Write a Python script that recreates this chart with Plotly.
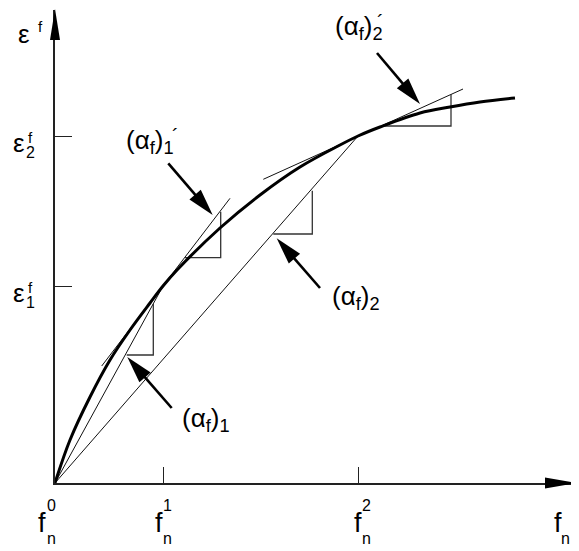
import numpy as np
import plotly.graph_objects as go

# ---------------- data (chart units: 1 unit ~ 1 px) ----------------
curve_x = [0, 15, 35, 55, 75, 95, 108, 122, 165, 205, 245, 285, 303, 325, 365, 395, 425, 460]
curve_y = [0, 43, 86, 123, 153, 180, 197, 213, 255, 288, 316, 338, 347, 356, 370, 376, 381, 385]

f_ticks = [108, 303]          # f_n^1, f_n^2
eps_ticks = [197, 347]        # eps_1^f, eps_2^f

tangent1_x = [46.7, 175]
tangent1_y = [117, 284.7]
tangent2_x = [208.3, 408]
tangent2_y = [303.7, 394]

tri_a1_x = [71.7, 98.3, 98.3]
tri_a1_y = [128, 128, 179]
tri_a1p_x = [130, 165.7, 165.7]
tri_a1p_y = [225.3, 225.3, 271.3]
tri_a2_x = [218.3, 257.3, 257.3]
tri_a2_y = [249, 249, 292.3]
tri_a2p_x = [326, 396, 396]
tri_a2p_y = [357, 357, 389]

arrow_tail_x = [116.7, 113.3, 265, 322]
arrow_tail_y = [75, 319.7, 195, 430]
arrow_tip_x = [72.3, 157.7, 221.7, 365]
arrow_tip_y = [126, 268, 244.7, 379]

X_MAX = 520
Y_MAX = 473

fig = go.Figure()

THIN = dict(color="#111111", width=1)
TRI = dict(color="#333333", width=1.3)

# secants from origin
for fx, ey in zip(f_ticks, eps_ticks):
    fig.add_trace(go.Scatter(x=[0, fx], y=[0, ey], mode="lines", line=THIN,
                             hoverinfo="skip", showlegend=False))
# tangents
for tx, ty in [(tangent1_x, tangent1_y), (tangent2_x, tangent2_y)]:
    fig.add_trace(go.Scatter(x=tx, y=ty, mode="lines", line=THIN,
                             hoverinfo="skip", showlegend=False))
# slope triangles
for tx, ty in [(tri_a1_x, tri_a1_y), (tri_a1p_x, tri_a1p_y),
               (tri_a2_x, tri_a2_y), (tri_a2p_x, tri_a2p_y)]:
    fig.add_trace(go.Scatter(x=tx, y=ty, mode="lines", line=TRI,
                             hoverinfo="skip", showlegend=False))
# main curve
fig.add_trace(go.Scatter(x=curve_x, y=curve_y, mode="lines", line_shape="spline",
                         line=dict(color="black", width=3),
                         hoverinfo="skip", showlegend=False))

# arrows (shaft + filled head)
HEAD_L, HEAD_W = 27, 7.5
for x0, y0, x1, y1 in zip(arrow_tail_x, arrow_tail_y, arrow_tip_x, arrow_tip_y):
    d = np.array([x1 - x0, y1 - y0], dtype=float)
    d /= np.linalg.norm(d)
    n = np.array([-d[1], d[0]])
    tip = np.array([x1, y1])
    base = tip - HEAD_L * d
    fig.add_trace(go.Scatter(x=[x0, base[0] + 2 * d[0]], y=[y0, base[1] + 2 * d[1]],
                             mode="lines", line=dict(color="black", width=2.6),
                             hoverinfo="skip", showlegend=False))
    p1 = base + HEAD_W * n
    p2 = base - HEAD_W * n
    fig.add_shape(type="path",
                  path=f"M{tip[0]},{tip[1]} L{p1[0]},{p1[1]} L{p2[0]},{p2[1]} Z",
                  xref="x", yref="y", fillcolor="black", line=dict(width=0))

# axis arrowheads
fig.add_shape(type="path", xref="x domain", yref="y domain", xsizemode="pixel",
              ysizemode="pixel", xanchor=1, yanchor=0,
              path="M1,0 L-30,5.5 L-30,-5.5 Z", fillcolor="black", line=dict(width=0))
fig.add_shape(type="path", xref="x domain", yref="y domain", xsizemode="pixel",
              ysizemode="pixel", xanchor=0, yanchor=1,
              path="M0,1 L-5,-30 L5,-30 Z", fillcolor="black", line=dict(width=0))

FONT = "Liberation Sans, Arial, Helvetica, sans-serif"


def txt(x, y, s, size, xanchor="center"):
    # x, y in chart units, placed via paper coordinates (may lie outside the axes)
    fig.add_annotation(x=x / X_MAX, y=y / Y_MAX, xref="paper", yref="paper", text=s,
                       showarrow=False,
                       font=dict(family=FONT, size=size, color="black"),
                       xanchor=xanchor, yanchor="middle")


# f labels on x axis
f_label_x = [0] + f_ticks + [X_MAX]
f_sup = ["0", "1", "2", ""]
f_off = [(-13.5, -4), (-4.5, 4), (-0.5, 8), (-17.5, -10)]
for fx, sup, (fo, so) in zip(f_label_x, f_sup, f_off):
    txt(fx + fo, -40, "f", 27)
    txt(fx + so, -55, "n", 16)
    if sup:
        txt(fx + so, -22, sup, 16)

# eps labels on y axis
txt(-31, 449, "ε", 26)
txt(-14.5, 456, "f", 15)
for ey, sub in zip(eps_ticks, ["1", "2"]):
    txt(-36.5, ey - 7, "ε", 26)
    txt(-25, ey - 1, "f", 15)
    txt(-25, ey - 16.5, sub, 16)

# alpha labels
alpha_labels = [("(α<sub>f</sub>)<sub>1</sub>", 125, 64, None),
                ("(α<sub>f</sub>)<sub>1</sub>", 69, 342, (120, 347)),
                ("(α<sub>f</sub>)<sub>2</sub>", 275, 186, None),
                ("(α<sub>f</sub>)<sub>2</sub>", 278, 455, (325, 461))]
for s, x, y, prime in alpha_labels:
    txt(x, y, s, 26, xanchor="left")
    if prime:
        txt(prime[0], prime[1], "´", 20)

# the page adds an 8 px body margin, so the figure is 8 px smaller
fig.update_layout(
    width=571, height=543,
    margin=dict(l=47, r=4, t=2, b=68),
    paper_bgcolor="white", plot_bgcolor="white",
    xaxis=dict(range=[0, X_MAX], showgrid=False, zeroline=False, showline=True,
               linecolor="#222222", linewidth=1.6, ticks="inside", ticklen=16,
               tickwidth=1.2, tickcolor="#222222", tickvals=f_ticks,
               showticklabels=False, fixedrange=True),
    yaxis=dict(range=[0, Y_MAX], showgrid=False, zeroline=False, showline=True,
               linecolor="#222222", linewidth=1.6, ticks="inside", ticklen=17,
               tickwidth=1.2, tickcolor="#222222", tickvals=eps_ticks,
               showticklabels=False, fixedrange=True),
)

fig.write_html("out.html")
